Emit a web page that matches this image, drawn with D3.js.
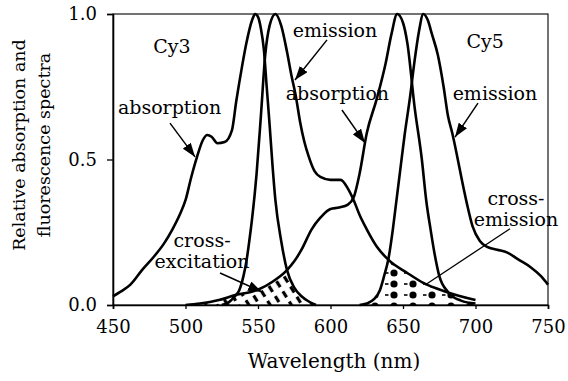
<!DOCTYPE html>
<html><head><meta charset="utf-8">
<script src="https://cdn.jsdelivr.net/npm/d3@7"></script>
<style>
body{margin:0;background:#fff}
svg{display:block}
text{font-family:"DejaVu Serif",serif;fill:#000}
</style>
</head><body>
<svg id="c" width="568" height="381"></svg>
<script>
// ---------- data ----------
const cy3AbsNm  = [450,455,462,470,478,485,491,496,500,504,508,512,515,518,522,527,532,535,539,542,546,548,550,552,554,556,558,560,562,566,570,575,580,585,590];
const cy3AbsVal = [0.03,0.045,0.07,0.12,0.165,0.21,0.26,0.31,0.36,0.44,0.51,0.567,0.584,0.578,0.556,0.56,0.6,0.70,0.82,0.9,0.98,1.0,0.99,0.95,0.88,0.75,0.62,0.48,0.36,0.22,0.12,0.06,0.03,0.012,0.0];

const cy3EmNm  = [525,530,534,537,540,542,544,546,549,552,555,558,562,566,570,573,576,579,582,585,589,593,600,607,612,616,620,625,632,640,653,664,680,700];
const cy3EmVal = [0.0,0.01,0.03,0.05,0.1,0.15,0.22,0.3,0.45,0.65,0.86,0.96,1.0,0.96,0.87,0.79,0.72,0.63,0.56,0.51,0.46,0.44,0.43,0.43,0.40,0.36,0.31,0.26,0.20,0.155,0.11,0.076,0.045,0.017];

const cy5AbsNm  = [500,510,523,535,545,551,560,570,575,580,587,593,600,606,612,616,620,625,632,638,642,646,650,653,658,663,666,669,672,675,681,690,700];
const cy5AbsVal = [0.0,0.005,0.017,0.035,0.045,0.055,0.08,0.12,0.15,0.19,0.26,0.30,0.33,0.335,0.345,0.37,0.45,0.59,0.71,0.83,0.93,1.0,0.97,0.9,0.68,0.5,0.36,0.26,0.17,0.1,0.045,0.015,0.005];

const cy5EmNm  = [620,625,630,634,637,640,643,645,648,651,655,658,661,664,667,670,674,678,681,684,687,691,694,698,703,708,715,722,730,738,745,750];
const cy5EmVal = [0.0,0.005,0.02,0.05,0.1,0.16,0.26,0.34,0.46,0.58,0.72,0.84,0.94,1.0,0.98,0.93,0.86,0.75,0.65,0.59,0.52,0.42,0.35,0.27,0.22,0.2,0.19,0.18,0.155,0.13,0.1,0.07];

const xTickValues = [450,500,550,600,650,700,750];
const yTickValues = [0.0,0.5,1.0];
const xTitle = "Wavelength (nm)";
const yTitleLines = ["Relative absorption and","fluorescence spectra"];

// labels: text lines, anchor position in data units (nm, value)
const labelTexts = [["Cy3"],["absorption"],["emission"],["absorption"],["Cy5"],["emission"],["cross-","emission"],["cross-","excitation"]];
const labelNm    = [490.7,489,603.1,604.8,706.6,713.4,727.9,511.4];
const labelVal   = [0.866,0.656,0.921,0.704,0.883,0.704,0.344,0.199];
// arrows: from (nm,val) to (nm,val)
const arrowFromNm  = [489.3,597.6,607.9,701.7,523.8];
const arrowFromVal = [0.625,0.911,0.67,0.694,0.11];
const arrowToNm    = [506.6,575.5,623.8,685.9,552.8];
const arrowToVal   = [0.509,0.773,0.557,0.577,0.045];
const leaderFromNm = [723.8], leaderFromVal=[0.262], leaderToNm=[665.2], leaderToVal=[0.069];

// ---------- chart ----------
const svg = d3.select("#c");
const x = d3.scaleLinear().domain([450,750]).range([113,548]);
const y = d3.scaleLinear().domain([0,1]).range([305,14]);
const defs = svg.append("defs");

// hatch pattern (cross-excitation): sparse thick slanted dashes
const hatch = defs.append("pattern").attr("id","hatch").attr("patternUnits","userSpaceOnUse")
  .attr("width",9).attr("height",12).attr("patternTransform","rotate(-32)");
hatch.append("line").attr("x1",4.5).attr("y1",1).attr("x2",4.5).attr("y2",8)
  .attr("stroke","#000").attr("stroke-width",3.2);
// dot pattern (cross-emission): sparse dots with short dashes
const dots = defs.append("pattern").attr("id","dots").attr("patternUnits","userSpaceOnUse")
  .attr("width",19).attr("height",11).attr("x",4).attr("y",4);
dots.append("circle").attr("cx",10).attr("cy",5).attr("r",3.6).attr("fill","#000");
dots.append("rect").attr("x",1).attr("y",4.2).attr("width",3.5).attr("height",1.6).attr("fill","#000");

// arrow marker
defs.append("marker").attr("id","ah").attr("markerUnits","userSpaceOnUse")
  .attr("viewBox","0 0 14 10").attr("markerWidth",14).attr("markerHeight",10)
  .attr("refX",14).attr("refY",5).attr("orient","auto")
  .append("path").attr("d","M0,0 L14,5 L0,10 Z").attr("fill","#000");

const zip = (a,b) => a.map((d,i)=>[d,b[i]]);
const cy3Abs = zip(cy3AbsNm,cy3AbsVal), cy3Em = zip(cy3EmNm,cy3EmVal);
const cy5Abs = zip(cy5AbsNm,cy5AbsVal), cy5Em = zip(cy5EmNm,cy5EmVal);

const curve = d3.curveMonotoneX;
const line = d3.line().x(d=>x(d[0])).y(d=>y(d[1])).curve(curve);
const area = d3.area().x(d=>x(d[0])).y0(y(0)).y1(d=>y(d[1])).curve(curve);

defs.append("clipPath").attr("id","clipCy3Abs").append("path").attr("d",area(cy3Abs));
defs.append("clipPath").attr("id","clipCy5Em").append("path").attr("d",area(cy5Em));

svg.append("path").attr("d",area(cy5Abs)).attr("fill","url(#hatch)").attr("clip-path","url(#clipCy3Abs)");
svg.append("path").attr("d",area(cy3Em.filter(d=>d[0]>=620))).attr("fill","url(#dots)").attr("clip-path","url(#clipCy5Em)");

[cy3Abs,cy3Em,cy5Abs,cy5Em].forEach(s=>{
  svg.append("path").attr("d",line(s)).attr("fill","none").attr("stroke","#000")
    .attr("stroke-width",2.6).attr("stroke-linejoin","round");
});

// frame
svg.append("rect").attr("x",x(450)).attr("y",y(1)).attr("width",x(750)-x(450)).attr("height",y(0)-y(1))
  .attr("fill","none").attr("stroke","#000").attr("stroke-width",1.1);

// axes
const xa = svg.append("g").attr("transform",`translate(0,${y(0)})`)
  .call(d3.axisBottom(x).tickValues(xTickValues).tickSize(4).tickPadding(11).tickFormat(d3.format("d")));
const ya = svg.append("g").attr("transform",`translate(${x(450)},0)`)
  .call(d3.axisLeft(y).tickValues(yTickValues).tickSize(6).tickPadding(10).tickFormat(d3.format(".1f")));
[xa,ya].forEach(g=>{
  g.selectAll("text").style("font-family","'DejaVu Serif',serif").style("font-size","18px").attr("fill","#000");
  g.selectAll("line").attr("stroke","#000").attr("stroke-width",1.3);
  g.select(".domain").attr("stroke","#000").attr("stroke-width",1.6);
});

// titles
svg.append("text").attr("x",334).attr("y",368).attr("text-anchor","middle")
  .style("font-size","20px").text(xTitle);
yTitleLines.forEach((t,i)=>{
  svg.append("text").attr("transform",`translate(${25+i*25},145) rotate(-90)`).attr("text-anchor","middle")
    .style("font-size","17.5px").text(t);
});

// labels
labelTexts.forEach((lines,i)=>{
  lines.forEach((t,j)=>{
    svg.append("text").attr("x",x(labelNm[i])).attr("y",y(labelVal[i])+j*21)
      .attr("text-anchor","middle").style("font-size","19px").text(t);
  });
});
arrowFromNm.forEach((d,i)=>{
  svg.append("line").attr("x1",x(d)).attr("y1",y(arrowFromVal[i]))
    .attr("x2",x(arrowToNm[i])).attr("y2",y(arrowToVal[i]))
    .attr("stroke","#000").attr("stroke-width",1.5).attr("marker-end","url(#ah)");
});
leaderFromNm.forEach((d,i)=>{
  svg.append("line").attr("x1",x(d)).attr("y1",y(leaderFromVal[i]))
    .attr("x2",x(leaderToNm[i])).attr("y2",y(leaderToVal[i]))
    .attr("stroke","#000").attr("stroke-width",1.3);
});
</script>
</body></html>
